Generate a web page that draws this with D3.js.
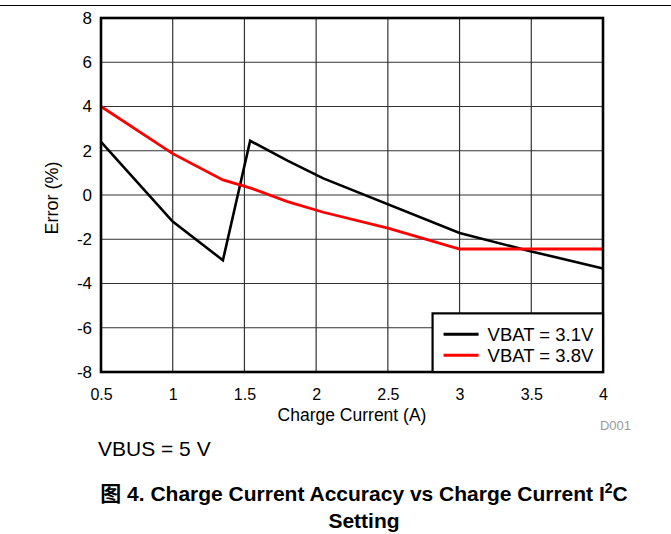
<!DOCTYPE html>
<html>
<head>
<meta charset="utf-8">
<script src="https://cdn.jsdelivr.net/npm/d3@7"></script>
<style>
  body { margin: 0; background: #fff; }
  text { font-family: Arial, "Liberation Sans", sans-serif; }
</style>
</head>
<body>
<div id="chart"></div>
<script>
// 数据：读自原图
const current31 = [0.5, 1.0, 1.35, 1.54, 1.8, 2.05, 3.0, 3.5, 4.0]
const error31 = [2.4, -1.2, -2.95, 2.45, 1.55, 0.75, -1.72, -2.55, -3.32]
const current38 = [0.5, 1.0, 1.35, 1.55, 1.8, 2.05, 2.5, 3.0, 3.5, 4.0]
const error38 = [4.0, 1.87, 0.68, 0.3, -0.3, -0.78, -1.5, -2.44, -2.44, -2.44]
const xTicks = [0.5, 1, 1.5, 2, 2.5, 3, 3.5, 4]
const yTicks = [-8, -6, -4, -2, 0, 2, 4, 6, 8]
const seriesNames = ['VBAT = 3.1V', 'VBAT = 3.8V']
const seriesColors = ['#000000', '#ff0000']

const width = 671, height = 534
const margin = { top: 18, right: 68, bottom: 162, left: 101 }

const svg = d3.select('#chart').append('svg')
  .attr('width', width)
  .attr('height', height)

// 顶部分隔线
svg.append('line')
  .attr('x1', 0).attr('x2', width)
  .attr('y1', 5.5).attr('y2', 5.5)
  .attr('stroke', '#000').attr('stroke-width', 1.2)

const x = d3.scaleLinear()
  .domain([0.5, 4])
  .range([margin.left, width - margin.right])

const y = d3.scaleLinear()
  .domain([-8, 8])
  .range([height - margin.bottom, margin.top])

// 网格
const grid = svg.append('g')
grid.selectAll('.vg')
  .data(xTicks.slice(1, -1))
  .join('line')
  .attr('x1', d => x(d)).attr('x2', d => x(d))
  .attr('y1', y(8)).attr('y2', y(-8))
  .attr('stroke', '#333').attr('stroke-width', 1.2)
grid.selectAll('.hg')
  .data(yTicks.slice(1, -1))
  .join('line')
  .attr('x1', x(0.5)).attr('x2', x(4))
  .attr('y1', d => y(d)).attr('y2', d => y(d))
  .attr('stroke', '#333').attr('stroke-width', 1.2)

// 坐标轴刻度文字（用普通连字符）
const yAxis = svg.append('g')
  .attr('transform', `translate(${margin.left},0)`)
  .call(d3.axisLeft(y).tickValues(yTicks).tickSize(0).tickPadding(9).tickFormat(d => String(d)))
yAxis.select('.domain').remove()
yAxis.selectAll('text').attr('font-size', 17).attr('fill', '#000')
  .attr('font-family', 'Arial, "Liberation Sans", sans-serif')

const xAxis = svg.append('g')
  .attr('transform', `translate(0,${y(-8)})`)
  .call(d3.axisBottom(x).tickValues(xTicks).tickSize(0).tickPadding(17).tickFormat(d => String(d)))
xAxis.select('.domain').remove()
xAxis.selectAll('text').attr('font-size', 16).attr('fill', '#000')
  .attr('font-family', 'Arial, "Liberation Sans", sans-serif')

// 曲线
const line = d3.line()
  .x(d => x(d[0]))
  .y(d => y(d[1]))

const series = [
  d3.zip(current31, error31),
  d3.zip(current38, error38),
]
svg.append('g').selectAll('path')
  .data(series)
  .join('path')
  .attr('d', line)
  .attr('fill', 'none')
  .attr('stroke', (d, i) => seriesColors[i])
  .attr('stroke-width', (d, i) => i ? 2.8 : 2.6)
  .attr('stroke-linejoin', 'miter')

// 边框
svg.append('rect')
  .attr('x', x(0.5)).attr('y', y(8))
  .attr('width', x(4) - x(0.5))
  .attr('height', y(-8) - y(8))
  .attr('fill', 'none')
  .attr('stroke', '#000')
  .attr('stroke-width', 2.6)

// 图例
const legend = svg.append('g').attr('transform', `translate(${x(3) - 27},${y(-5.35)})`)
legend.append('rect')
  .attr('width', x(4) - x(3) + 27)
  .attr('height', y(-8) - y(-5.35))
  .attr('fill', '#fff')
  .attr('stroke', '#000')
  .attr('stroke-width', 2.2)
seriesNames.forEach((name, i) => {
  const ly = 21 + i * 21
  legend.append('line')
    .attr('x1', 11).attr('x2', 46)
    .attr('y1', ly).attr('y2', ly)
    .attr('stroke', seriesColors[i]).attr('stroke-width', 3)
  legend.append('text')
    .attr('x', 55).attr('y', ly + 6.5)
    .attr('font-size', 18.5)
    .text(name)
})

// 轴标题
svg.append('text')
  .attr('x', (x(0.5) + x(4)) / 2)
  .attr('y', 421)
  .attr('text-anchor', 'middle')
  .attr('font-size', 17.5)
  .text('Charge Current (A)')

svg.append('text')
  .attr('transform', `translate(58,198) rotate(-90)`)
  .attr('text-anchor', 'middle')
  .attr('font-size', 18)
  .text('Error (%)')

svg.append('text')
  .attr('x', 631).attr('y', 430)
  .attr('text-anchor', 'end')
  .attr('font-size', 13)
  .attr('fill', '#999')
  .text('D001')

svg.append('text')
  .attr('x', 98).attr('y', 456)
  .attr('font-size', 21)
  .text('VBUS = 5 V')

// 图题
const cap = svg.append('text')
  .attr('x', 364).attr('y', 501)
  .attr('text-anchor', 'middle')
  .attr('font-size', 21)
  .attr('font-weight', 'bold')
cap.append('tspan').attr('font-family', '"Noto Sans CJK SC", sans-serif').text('图')
cap.append('tspan').text(' 4. Charge Current Accuracy vs Charge Current I')
cap.append('tspan').attr('font-size', 14).attr('dy', -8).text('2')
cap.append('tspan').attr('dy', 8).text('C')

svg.append('text')
  .attr('x', 364).attr('y', 528)
  .attr('text-anchor', 'middle')
  .attr('font-size', 21)
  .attr('font-weight', 'bold')
  .text('Setting')
</script>
</body>
</html>
